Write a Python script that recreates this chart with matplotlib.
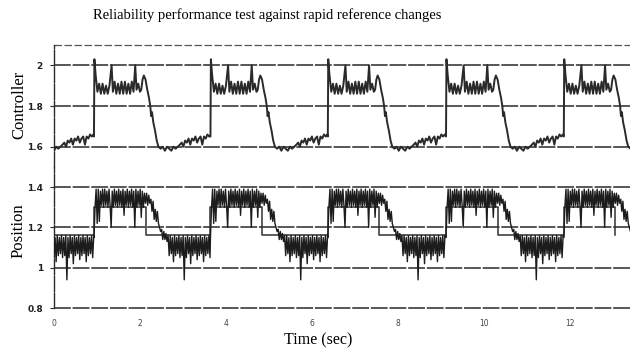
import numpy as np
import matplotlib
matplotlib.use("Agg")
import matplotlib.pyplot as plt

# rise instants of the reference square wave (sec)
rise_times = [-1.80, 0.93, 3.64, 6.37, 9.12, 11.86]

# controller output over one cycle: offset from rise (sec), value
ctrl_t = [0.00, 0.01, 0.04, 0.08, 0.12, 0.16, 0.20, 0.24, 0.28, 0.32, 0.36, 0.41,
          0.44, 0.48, 0.52, 0.56, 0.60, 0.64, 0.68, 0.72, 0.76, 0.80, 0.84, 0.88,
          0.92, 0.96, 0.99, 1.03, 1.07, 1.10, 1.13, 1.16, 1.20, 1.24, 1.28, 1.31,
          1.33, 1.35, 1.38, 1.42, 1.46, 1.50, 1.55, 1.60, 1.65, 1.70, 1.75, 1.80,
          1.85, 1.90, 1.95, 2.00, 2.04, 2.08, 2.12, 2.16, 2.20, 2.24, 2.28, 2.32,
          2.36, 2.40, 2.44, 2.48, 2.52, 2.56, 2.60, 2.64, 2.68, 2.72]
ctrl_v = [1.65, 2.03, 1.95, 1.87, 1.91, 1.86, 1.91, 1.86, 1.90, 1.86, 1.90, 2.00,
          1.87, 1.92, 1.86, 1.91, 1.86, 1.92, 1.86, 1.92, 1.86, 1.91, 1.86, 1.92,
          1.87, 2.00, 1.88, 1.91, 1.87, 1.88, 1.93, 1.95, 1.93, 1.88, 1.84, 1.80,
          1.75, 1.77, 1.72, 1.68, 1.63, 1.60, 1.59, 1.60, 1.58, 1.60, 1.59, 1.58,
          1.60, 1.59, 1.60, 1.61, 1.62, 1.60, 1.63, 1.62, 1.64, 1.61, 1.64, 1.63,
          1.65, 1.62, 1.64, 1.65, 1.61, 1.65, 1.64, 1.66, 1.65, 1.66]

# measured position over one cycle, sampled every 0.025 s from the rise
pos_step = 0.025
pos_v = [1.15, 1.30, 1.39, 1.22, 1.39, 1.23, 1.38, 1.31, 1.39, 1.30, 1.39, 1.31,
         1.38, 1.30, 1.39, 1.31, 1.20, 1.38, 1.30, 1.39, 1.31, 1.38, 1.30, 1.39,
         1.31, 1.38, 1.30, 1.39, 1.26, 1.38, 1.31, 1.39, 1.30, 1.38, 1.31, 1.39,
         1.30, 1.38, 1.20, 1.39, 1.30, 1.38, 1.31, 1.39, 1.25, 1.38, 1.30, 1.37,
         1.32, 1.37, 1.31, 1.36, 1.32, 1.34, 1.28, 1.33, 1.24, 1.29, 1.23, 1.28,
         1.22, 1.20, 1.18, 1.19, 1.14, 1.18, 1.14, 1.17, 1.13, 1.16, 1.06, 1.16,
         1.07, 1.15, 1.03, 1.16, 1.06, 1.15, 1.07, 1.16, 1.05, 1.15, 1.06, 1.16,
         0.94, 1.15, 1.05, 1.16, 1.07, 1.15, 1.02, 1.16, 1.06, 1.15, 1.07, 1.16,
         1.04, 1.15, 1.06, 1.16, 1.07, 1.15, 1.03, 1.16, 1.06, 1.15, 1.07, 1.16,
         1.05, 1.16]

# reference position: high / low levels and the drop instant after each rise
ref_high = 1.30
ref_low = 1.16
ref_drop = 1.20

xmax = 13.4
ink = "#2a2a2a"


def tile(offsets, values, starts):
    tt, vv = [], []
    for k, t0 in enumerate(starts):
        t_next = starts[k + 1] if k + 1 < len(starts) else t0 + 3.0
        for dt, v in zip(offsets, values):
            if t0 + dt < t_next:
                tt.append(t0 + dt)
                vv.append(v)
    return np.array(tt), np.array(vv)


ct, cv = tile(ctrl_t, ctrl_v, rise_times)
pos_t = [i * pos_step for i in range(len(pos_v))]
pt, pv = tile(pos_t, pos_v, rise_times)

ref_t, ref_v = [], []
for t0 in rise_times:
    ref_t += [t0, t0 + ref_drop]
    ref_v += [ref_high, ref_low]

fig = plt.figure(figsize=(6.3, 3.51), dpi=100)
ax1 = fig.add_axes([0.0857, 0.5242, 0.9143, 0.3476])
ax2 = fig.add_axes([0.0857, 0.1225, 0.9143, 0.4017])

dash = (0, (11, 1.2))
for ax, lo, hi, ticks, labels in [(ax1, 1.5, 2.1, [1.6, 1.8, 2.0], ["1.6", "1.8", "2"]),
                                  (ax2, 0.8, 1.5, [0.8, 1.0, 1.2, 1.4], ["0.8", "1", "1.2", "1.4"])]:
    ax.set_xlim(0, xmax)
    ax.set_ylim(lo, hi)
    for s in ["right", "top", "bottom"]:
        ax.spines[s].set_visible(False)
    ax.spines["left"].set_color(ink)
    ax.spines["left"].set_linestyle(dash)
    ax.spines["left"].set_linewidth(1.0)
    ax.set_yticks(ticks)
    ax.set_yticklabels(labels, fontsize=6.5, fontweight="bold", color="#222")
    ax.tick_params(axis="y", length=3, width=0.8, color=ink, pad=5)
    for y in ticks:
        ax.axhline(y, color=ink, lw=1.1, ls=dash, zorder=1, clip_on=False)

ax1.axhline(2.1, color="#555", lw=0.9, ls=(0, (6, 2)), zorder=1, clip_on=False)
ax1.set_xticks([])

ax1.plot(ct, cv, color="#2a2a2a", lw=1.4, zorder=3)
ax2.step(ref_t, ref_v, where="post", color="#303030", lw=1.1, zorder=2)
ax2.plot(pt, pv, color="#1c1c1c", lw=1.0, zorder=3)

ax2.set_xticks([0, 2, 4, 6, 8, 10, 12])
ax2.set_xticklabels(["0", "2", "4", "6", "8", "10", "12"], fontsize=5.5, color="#444")
ax2.tick_params(axis="x", length=0, pad=8)

serif = "Liberation Serif"
fig.text(0.424, 0.957, "Reliability performance test against rapid reference changes",
         ha="center", va="center", fontsize=10.5, family=serif)
fig.text(0.030, 0.70, "Controller", rotation=90, ha="center", va="center",
         fontsize=12, family=serif)
fig.text(0.030, 0.342, "Position", rotation=90, ha="center", va="center",
         fontsize=12, family=serif)
fig.text(0.505, 0.031, "Time (sec)", ha="center", va="center", fontsize=11.5, family=serif)

fig.savefig("out.png", dpi=100)
